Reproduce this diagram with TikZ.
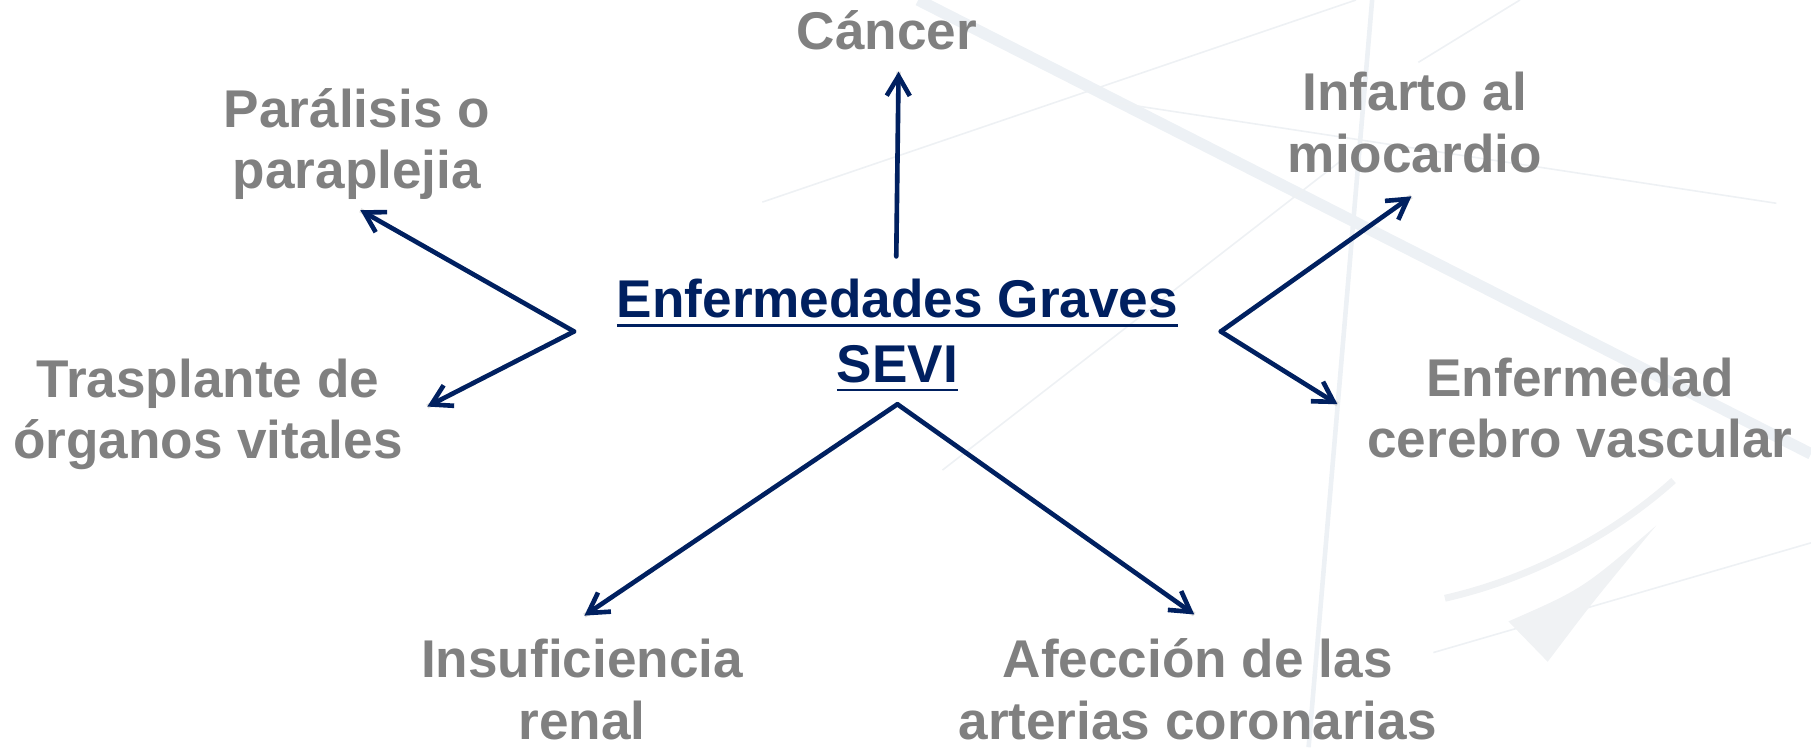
\documentclass[tikz,border=0pt]{standalone}
\usepackage{fontspec}
\setmainfont{Liberation Sans}
\usetikzlibrary{arrows.meta}
\definecolor{navy}{HTML}{002060}
\definecolor{txtgray}{HTML}{808080}
\definecolor{bgband}{HTML}{EDF1F5}
\definecolor{bgline}{HTML}{EEF1F4}
\definecolor{bgswoosh}{HTML}{F0F2F4}
\newcommand\myulx[1]{\setbox0\hbox{#1}\rlap{\hbox{#1}}\rule[-3.8pt]{\wd0}{1.2pt}}
\begin{document}
\begin{tikzpicture}[x=0.5pt,y=-0.5pt,
  lbl/.style={font=\bfseries\fontsize{23}{26.5}\selectfont, text=txtgray, align=center, inner sep=0pt, anchor=base},
  ttl/.style={font=\bfseries\fontsize{23}{28}\selectfont, text=navy, align=center, inner sep=0pt, anchor=base},
  arr/.style={draw=navy, line width=2pt, line cap=round, -{Straight Barb[length=8.5pt,width=10pt,line width=2pt]}},
  shd/.style={draw=black!25, line width=2pt, opacity=0.5, shift={(1.5,2)}},
  thinbg/.style={draw=bgline, line width=0.7pt}]
\useasboundingbox (0,0) rectangle (1568,647);
% background decoration
\draw[draw=bgband, line width=5pt] (795,0) -- (1568,393);
\draw[draw=bgband, line width=2pt] (1188,0) -- (1133,647);
\draw[thinbg] (660,175) -- (1174,0);
\draw[thinbg] (960,88) -- (1538,176);
\draw[thinbg] (816,407) -- (1160,140);
\draw[thinbg] (1228,54) -- (1316,0);
\draw[thinbg] (1241,565) -- (1568,470);
\draw[draw=bgswoosh, line width=3pt] (1251,518) .. controls (1330,500) and (1400,460) .. (1449,416);
\fill[bgswoosh] (1306,538) .. controls (1370,510) .. (1434,455) .. controls (1380,520) .. (1340,573) -- cycle;
% nodes
\node[ttl] (title) at (777,331.3) {\myulx{Enfermedades Graves}\\\myulx{SEVI}};
\node[lbl] (cancer) at (768,43) {Cáncer};
\node[lbl] (paral) at (309,163) {Parálisis o\\paraplejia};
\node[lbl] (infarto) at (1225,149) {Infarto al\\miocardio};
\node[lbl] (traspl) at (180,397) {Trasplante de\\órganos vitales};
\node[lbl] (enfcv) at (1368,396) {Enfermedad\\cerebro vascular};
\node[lbl] (insuf) at (504,640) {Insuficiencia\\renal};
\node[lbl] (afec) at (1037,640) {Afección de las\\arterias coronarias};
% connector points
\coordinate (vT) at (776,222);
\coordinate (tC) at (778,62);
\coordinate (vL) at (497,287);
\coordinate (tP) at (312,182);
\coordinate (tT) at (370,352);
\coordinate (vR) at (1057,287);
\coordinate (tI) at (1222,170);
\coordinate (tE) at (1158,350);
\coordinate (vB) at (777,350);
\coordinate (tR) at (506,533);
\coordinate (tA) at (1034,532);
\foreach \a/\b in {vT/tC, vL/tP, vL/tT, vR/tI, vR/tE, vB/tR, vB/tA}
  \draw[shd] (\a) -- (\b);
\foreach \a/\b in {vT/tC, vL/tP, vL/tT, vR/tI, vR/tE, vB/tR, vB/tA}
  \draw[arr] (\a) -- (\b);
\end{tikzpicture}
\end{document}
